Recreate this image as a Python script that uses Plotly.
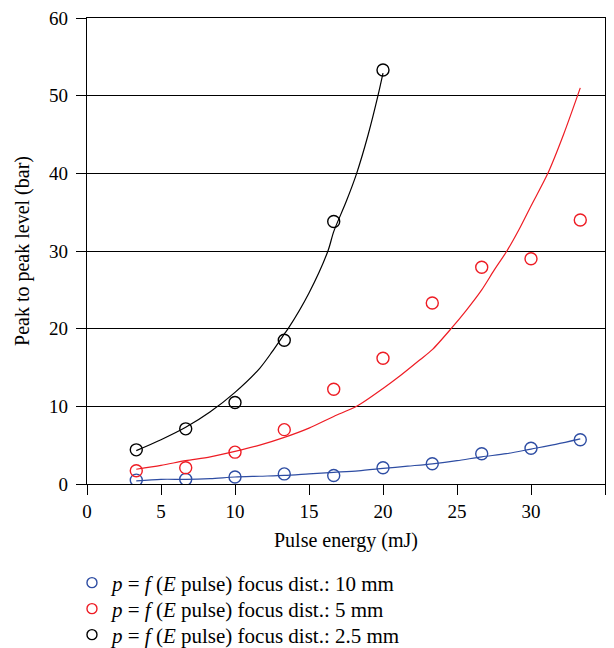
import plotly.graph_objects as go

x_pts = [3.33, 6.67, 10.0, 13.33, 16.67, 20.0, 23.33, 26.67, 30.0, 33.33]
y_blue = [0.5, 0.6, 0.9, 1.3, 1.1, 2.1, 2.6, 3.9, 4.6, 5.7]
y_red = [1.7, 2.1, 4.1, 7.0, 12.2, 16.2, 23.3, 27.9, 29.0, 34.0]
x_black = [3.33, 6.67, 10.0, 13.33, 16.67, 20.0]
y_black = [4.4, 7.1, 10.5, 18.5, 33.8, 53.3]

fit_x_blue = [3.33, 5.0, 6.67, 8.33, 10.0, 11.67, 13.33, 15.0, 16.67, 18.33, 20.0, 21.67, 23.33, 25.0, 26.67, 28.33, 30.0, 31.67, 33.33]
fit_y_blue = [0.4, 0.6, 0.6, 0.7, 0.9, 1.0, 1.1, 1.3, 1.5, 1.7, 2.0, 2.3, 2.6, 3.0, 3.5, 3.9, 4.5, 5.1, 5.8]
fit_x_red = [3.33, 5.0, 6.67, 8.33, 10.0, 11.67, 13.33, 15.0, 16.67, 18.22, 20.0, 21.2, 22.5, 23.33, 24.6, 25.6, 26.67, 27.5, 28.37, 29.2, 30.0, 31.14, 32.2, 33.33]
fit_y_red = [1.9, 2.4, 3.0, 3.5, 4.2, 5.0, 6.0, 7.2, 8.7, 10.0, 12.3, 14.0, 16.0, 17.3, 20.0, 22.3, 25.0, 27.5, 30.0, 32.8, 35.8, 40.0, 45.0, 51.0]
fit_x_black = [3.33, 5.0, 6.67, 8.33, 10.0, 11.67, 12.5, 13.33, 13.59, 15.0, 16.28, 16.67, 17.5, 18.22, 19.0, 19.66, 20.0]
fit_y_black = [4.3, 5.7, 7.3, 9.3, 11.8, 14.9, 17.0, 19.3, 20.0, 24.6, 30.0, 32.5, 36.3, 40.0, 45.0, 50.0, 52.9]

labels = ["<i>p</i> = <i>f</i> (<i>E</i> pulse) focus dist.: 10 mm",
          "<i>p</i> = <i>f</i> (<i>E</i> pulse) focus dist.: 5 mm",
          "<i>p</i> = <i>f</i> (<i>E</i> pulse) focus dist.: 2.5 mm"]
colors = ["#2e4da3", "#ee1c24", "#000000"]
legend_ids = ["legend", "legend2", "legend3"]

fig = go.Figure()
for fx, fy, c in [(fit_x_blue, fit_y_blue, colors[0]), (fit_x_red, fit_y_red, colors[1]), (fit_x_black, fit_y_black, colors[2])]:
    fig.add_trace(go.Scatter(x=fx, y=fy, mode="lines", line=dict(color=c, width=1.2, shape="spline", smoothing=0.8),
                             showlegend=False, hoverinfo="skip"))
for px, py, c in [(x_pts, y_blue, colors[0]), (x_pts, y_red, colors[1]), (x_black, y_black, colors[2])]:
    fig.add_trace(go.Scatter(x=px, y=py, mode="markers", showlegend=False,
                             marker=dict(symbol="circle-open", size=12, color=c, line=dict(width=1.4, color=c))))
# legend entries
for c, lab, lid in zip(colors, labels, legend_ids):
    fig.add_trace(go.Scatter(x=[None], y=[None], mode="markers", name=lab, legend=lid,
                             marker=dict(symbol="circle-open", size=10, color=c, line=dict(width=1.4, color=c))))

font = "Liberation Serif"
leg_common = dict(xanchor="left", yanchor="middle", x=-0.029,
                  bgcolor="rgba(0,0,0,0)", font=dict(family=font, size=21, color="black"))
fig.update_layout(
    width=614, height=648,
    margin=dict(l=87, r=9, t=18, b=164, autoexpand=False),
    paper_bgcolor="white", plot_bgcolor="white",
    font=dict(family=font, size=19, color="black"),
    xaxis=dict(range=[0, 35], dtick=5, showgrid=False, zeroline=False,
               showline=True, linecolor="black", linewidth=1.2, mirror=True,
               ticks="outside", ticklen=10, tickcolor="black", ticklabelstandoff=0,
               title=dict(text="Pulse energy (mJ)", standoff=12, font=dict(size=20))),
    yaxis=dict(range=[0, 60], dtick=10, showgrid=True, gridcolor="black", gridwidth=1.2,
               zeroline=False, showline=True, linecolor="black", linewidth=1.2, mirror=True,
               ticks="outside", ticklen=10, tickcolor="black", ticklabelstandoff=4,
               title=dict(text="Peak to peak level (bar)", standoff=14, font=dict(size=20))),
    legend=dict(y=-0.2124, **leg_common),
    legend2=dict(y=-0.2682, **leg_common),
    legend3=dict(y=-0.324, **leg_common),
)
fig.write_html("out.html")
